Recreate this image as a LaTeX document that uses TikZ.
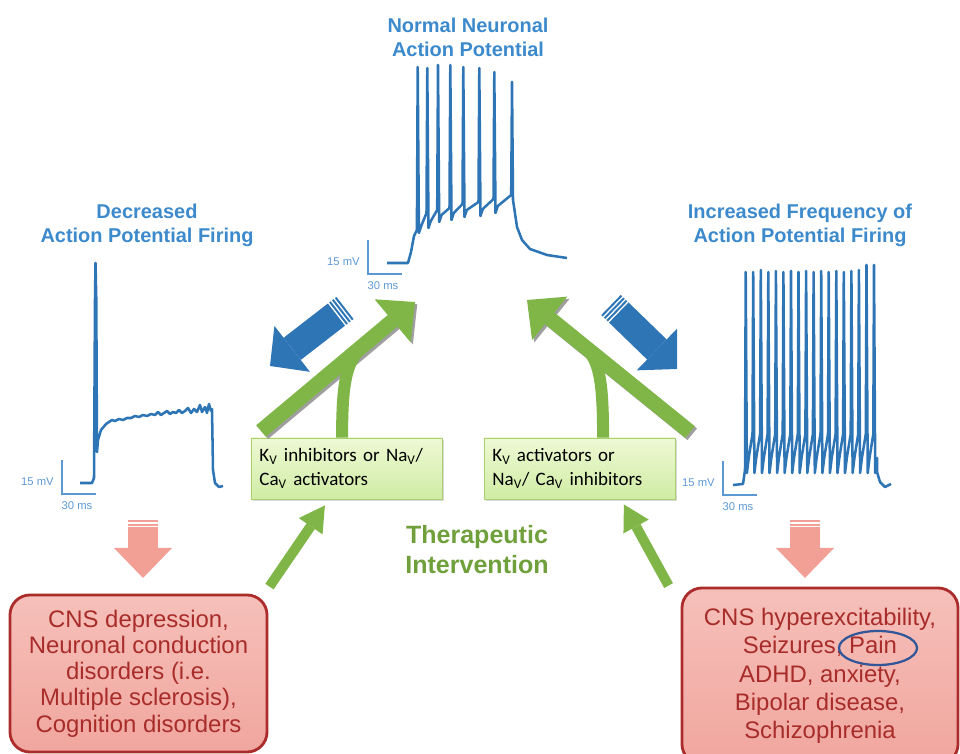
\documentclass[tikz,border=0pt]{standalone}
\usepackage{fontspec}
\setmainfont{Liberation Sans}
\newfontfamily\calibrifont{Carlito}
\usepackage{tikz}
\usetikzlibrary{shapes,arrows.meta,positioning,calc,shadows}
\definecolor{traceblue}{RGB}{46,117,182}
\definecolor{titleblue}{RGB}{60,138,204}
\definecolor{scaleblue}{RGB}{92,152,212}
\definecolor{arrowgreen}{RGB}{128,182,72}
\definecolor{textgreen}{RGB}{112,160,60}
\definecolor{boxgreentop}{RGB}{238,249,212}
\definecolor{boxgreenbot}{RGB}{208,236,164}
\definecolor{boxgreenline}{RGB}{172,208,112}
\definecolor{pinkfill}{RGB}{242,160,150}
\definecolor{redtop}{RGB}{246,192,186}
\definecolor{redbot}{RGB}{240,166,158}
\definecolor{redline}{RGB}{172,44,44}
\definecolor{redtext}{RGB}{168,45,42}
\definecolor{ringblue}{RGB}{50,86,152}

\begin{document}
\begin{tikzpicture}[
    x=0.025cm, y=-0.025cm,
    tracetitle/.style={font=\fontsize{14.2}{17}\selectfont\bfseries, text=titleblue, align=center},
    trace/.style={draw=traceblue, line width=1.8pt, line join=round},
    scalebar/.style={draw=scaleblue, line width=0.9pt},
    scalelabel/.style={font=\fontsize{8}{9}\selectfont, text=scaleblue, inner sep=0pt},
    drug/.style={rectangle, draw=boxgreenline, line width=0.6pt, top color=boxgreentop,
                 bottom color=boxgreenbot, minimum width=4.775cm, minimum height=1.525cm,
                 text width=4.35cm, inner xsep=0.2125cm, align=left,
                 font=\calibrifont\fontsize{13.5}{17}\selectfont,
                 drop shadow={opacity=0.3, shadow xshift=0.05cm, shadow yshift=-0.06cm}},
    disorder/.style={rectangle, rounded corners=0.5cm, draw=redline, line width=2pt,
                     top color=redtop, bottom color=redbot, text=redtext, align=center},
    bigarrow/.style={draw=arrowgreen, line width=0.375cm,
                     -{Triangle[length=0.73cm, width=1.4cm, line width'=0pt]}},
    bigshadow/.style={draw=gray!75, line width=0.375cm,
                      -{Triangle[length=0.73cm, width=1.4cm, line width'=0pt]},
                      transform canvas={shift={(1.6pt,-1.6pt)}}},
    mergeline/.style={draw=arrowgreen, line width=0.3cm},
    smallarrow/.style={draw=arrowgreen, line width=0.25cm,
                       -{Triangle[length=0.63cm, width=0.72cm, line width'=0pt]}},
    blockarrow/.style={draw=traceblue, line width=0.7cm,
                       -{Triangle[length=0.7cm, width=1.45cm, line width'=0pt]}},
    blockstripe/.style={draw=traceblue, line width=0.7cm},
    downarrow/.style={draw=pinkfill, line width=0.75cm,
                      -{Triangle[length=0.75cm, width=1.45cm, line width'=0pt]}},
    downstripe/.style={draw=pinkfill, line width=0.75cm}
]
\useasboundingbox (0,0) rectangle (960,754);

% Titles above the three recordings
\node[tracetitle] (normtitle) at (468,37) {Normal Neuronal\\Action Potential};
\node[tracetitle] (lowtitle) at (147,225) {Decreased\\Action Potential Firing};
\node[tracetitle] (hightitle) at (800,225) {Increased Frequency of\\Action Potential Firing};

% Normal firing
\draw[trace] (387,263) -- (408,263) -- (411,252) -- (414,236)
  \foreach \sx/\sb/\sp/\st in {417.7/230/67/233, 427.3/213/68/228, 438/210/65/222,
      450.3/208/65/220, 463.3/204/67/217, 479.3/202/68/216, 494.3/199/72/213}
  { -- (\sx-0.8,\sb) -- (\sx,\sp) -- (\sx+1.2,\st) -- (\sx+3.5,\st-7) }
  -- (511.2,195) -- (512,82) -- (513,200) -- (517,227) -- (522,240) -- (530,249)
  -- (547,255) -- (567,258);

% Decreased firing
\draw[trace] (80,483) -- (92,483) -- (94,478) -- (95,300) -- (95.5,263) -- (96.3,300)
  -- (97,452) -- (98,440) -- (101,430) -- (106,424) -- (112,420)
  \foreach \nx/\ny in {115/421, 119/419, 123/420, 127/418, 131/418, 135/416, 139/417,
      143/415, 147/416, 151/414, 155/415, 158/412, 161/415, 164/413, 167/411, 170/414,
      173/412, 176/413, 179/410, 182/413, 185/411, 188/408, 191/413, 194/409, 197/412,
      200/405, 202/412, 205/407, 207/413, 209/404, 211/411, 212/409}
  { -- (\nx,\ny) }
  -- (213,470) -- (215,483) -- (219,487) -- (223,486);

% Increased firing
\draw[trace] (733,485) -- (743,484) -- (745,470)
  \foreach \sx/\sb/\sp in {745.7/470/272, 753.2/434/272, 760.8/434/270, 768.3/434/272,
      775.9/434/271, 783.4/434/272, 791/434/271, 798.5/434/272, 806.1/434/271,
      813.6/434/272, 821.2/434/271, 828.7/434/272, 836.3/434/271, 843.8/434/272,
      851.4/434/271, 858.9/434/270, 866.5/434/265, 874/434/265}
  { -- (\sx-0.7,\sb) -- (\sx,\sp) -- (\sx+1.2,473) -- (\sx+3,458) }
  -- (877,472) -- (880,482) -- (885,487) -- (891,484);

% Scale bars
\foreach \bx/\by/\nm in {368/274/n, 62/494/l, 723/495/r} {
  \draw[scalebar] (\bx,\by-34) -- (\bx,\by) -- (\bx+34,\by);
  \node[scalelabel, anchor=east] (mv\nm) at (\bx-8,\by-12) {15 mV};
  \node[scalelabel] (ms\nm) at (\bx+15,\by+12) {30 ms};
}

% Blue arrows: normal -> abnormal firing
\coordinate (ldb-tail) at (345,308);
\coordinate (ldb-tip) at (270,366);
\coordinate (rdb-tail) at (611,305);
\coordinate (rdb-tip) at (677,369);
\foreach \t/\h in {ldb-tail/ldb-tip, rdb-tail/rdb-tip} {
  \foreach \a/\b in {0/0.05, 0.09/0.14, 0.18/0.23}
    \draw[blockstripe] ($(\t)!\a cm!(\h)$) -- ($(\t)!\b cm!(\h)$);
  \draw[blockarrow] ($(\t)!0.27cm!(\h)$) -- (\h);
}

% Drug classes
\node[drug] (lbox) at (346.5,468.5) {K\textsubscript{V} inhibitors or Na\textsubscript{V}/\\Ca\textsubscript{V} activators};
\node[drug] (rbox) at (579.5,468.5) {K\textsubscript{V} activators or\\Na\textsubscript{V}/ Ca\textsubscript{V} inhibitors};

% Green arrows back to normal firing
\coordinate (lup-tail) at (261,431);
\coordinate (lup-tip) at (415,302);
\coordinate (rup-tail) at (690,432);
\coordinate (rup-tip) at (527,300);
\draw[bigshadow] (lup-tail) -- (lup-tip);
\draw[bigshadow] (rup-tail) -- (rup-tip);
\draw[mergeline] ([xshift=-0.11cm]lbox.north) .. controls (342,378) and (347,358) .. ($(lup-tail)!0.69!(lup-tip)$);
\draw[mergeline] ([xshift=0.59cm]rbox.north) .. controls (603,378) and (599,360) .. ($(rup-tail)!0.65!(rup-tip)$);
\draw[bigarrow] (lup-tail) -- (lup-tip);
\draw[bigarrow] (rup-tail) -- (rup-tip);

\node[font=\fontsize{17.8}{21.3}\selectfont\bfseries, text=textgreen, align=center] (therapy) at (477,550) {Therapeutic\\Intervention};

% Disorders
\node[disorder, minimum width=6.425cm, minimum height=3.925cm, font=\fontsize{17}{18.7}\selectfont] (cnsdep) at (138.5,673.5)
  {CNS depression,\\Neuronal conduction\\disorders (i.e.\\Multiple sclerosis),\\Cognition disorders};
\node[disorder, minimum width=6.9cm, minimum height=4.4cm, font=\fontsize{17}{20.1}\selectfont] (cnshyp) at (820,676)
  {CNS hyperexcitability,\\Seizures, Pain\\ADHD, anxiety,\\Bipolar disease,\\Schizophrenia};
\node[ellipse, draw=ringblue, line width=1.6pt, minimum width=1.95cm, minimum height=0.85cm] (painring) at (878,648) {};

% Abnormal firing -> disorder
\coordinate (ldn-tail) at (143,520);
\coordinate (ldn-tip) at (143,578);
\coordinate (rdn-tail) at (805,520);
\coordinate (rdn-tip) at (805,578);
\foreach \t/\h in {ldn-tail/ldn-tip, rdn-tail/rdn-tip} {
  \foreach \a/\b in {0/0.05, 0.09/0.14}
    \draw[downstripe] ($(\t)!\a cm!(\h)$) -- ($(\t)!\b cm!(\h)$);
  \draw[downarrow] ($(\t)!0.18cm!(\h)$) -- (\h);
}

% Disorder -> drug class
\draw[smallarrow] ([shift={(0.025cm,0.175cm)}]cnsdep.north east) -- ([xshift=-0.54cm, yshift=-0.15cm]lbox.south);
\draw[smallarrow] ([shift={(-0.3cm,0.025cm)}]cnshyp.north west) -- ([xshift=1.11cm, yshift=-0.125cm]rbox.south);

\end{tikzpicture}
\end{document}
